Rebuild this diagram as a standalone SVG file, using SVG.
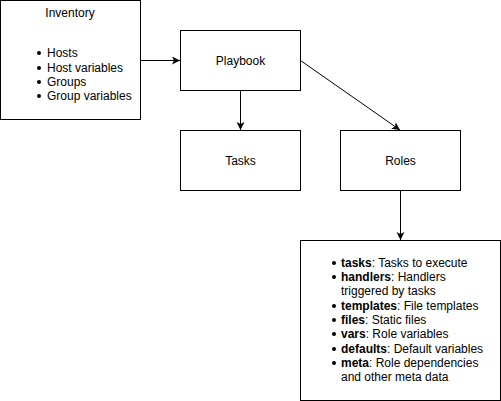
<svg xmlns="http://www.w3.org/2000/svg" width="501" height="401" viewBox="0 0 501 401">
<style>
.box{fill:#fff;stroke:#000;stroke-width:1}
text{font-family:"Liberation Sans",Arial,sans-serif;font-size:12px;fill:#000}
.c{text-anchor:middle}
.b{font-weight:bold}
.edge{stroke:#000;stroke-width:1;fill:none;marker-end:url(#ah)}
</style>
<defs>
<marker id="ah" markerWidth="10" markerHeight="10" refX="9" refY="5" orient="auto" markerUnits="userSpaceOnUse">
<path d="M1,1 L9,5 L1,9 L3,5 z" fill="#000"/>
</marker>
</defs>
<g id="connectors">
<line class="edge" x1="140.5" y1="60.5" x2="180" y2="60.5"/>
<line class="edge" x1="240.5" y1="90.5" x2="240.5" y2="130"/>
<line class="edge" x1="300.5" y1="60.5" x2="400" y2="130"/>
<line class="edge" x1="400.5" y1="190.5" x2="400.5" y2="240"/>
</g>
<g id="inventory">
<rect class="box" x="0.5" y="0.5" width="140" height="119"/>
<text class="c" x="70" y="17">Inventory</text>
<g fill="#000"><circle cx="39" cy="53" r="2"/><circle cx="39" cy="68" r="2"/><circle cx="39" cy="82" r="2"/><circle cx="39" cy="96" r="2"/></g>
<text x="47" y="57">Hosts</text>
<text x="47" y="72">Host variables</text>
<text x="47" y="86">Groups</text>
<text x="47" y="100">Group variables</text>
</g>
<g id="playbook">
<rect class="box" x="180.5" y="30.5" width="120" height="60"/>
<text class="c" x="240.5" y="65">Playbook</text>
</g>
<g id="tasks">
<rect class="box" x="180.5" y="130.5" width="120" height="60"/>
<text class="c" x="240.5" y="165">Tasks</text>
</g>
<g id="roles">
<rect class="box" x="340.5" y="130.5" width="120" height="60"/>
<text class="c" x="400.5" y="165">Roles</text>
</g>
<g id="role-contents">
<rect class="box" x="300.5" y="240.5" width="200" height="160"/>
<g fill="#000">
<circle cx="334" cy="263" r="2"/><circle cx="334" cy="277" r="2"/><circle cx="334" cy="306" r="2"/><circle cx="334" cy="320" r="2"/><circle cx="334" cy="334" r="2"/><circle cx="334" cy="349" r="2"/><circle cx="334" cy="363" r="2"/>
</g>
<text x="341" y="267"><tspan class="b">tasks</tspan>: Tasks to execute</text>
<text x="341" y="281"><tspan class="b">handlers</tspan>: Handlers</text>
<text x="341" y="295">triggered by tasks</text>
<text x="341" y="310"><tspan class="b">templates</tspan>: File templates</text>
<text x="341" y="324"><tspan class="b">files</tspan>: Static files</text>
<text x="341" y="338"><tspan class="b">vars</tspan>: Role variables</text>
<text x="341" y="353"><tspan class="b">defaults</tspan>: Default variables</text>
<text x="341" y="367"><tspan class="b">meta</tspan>: Role dependencies</text>
<text x="341" y="381">and other meta data</text>
</g>
</svg>
